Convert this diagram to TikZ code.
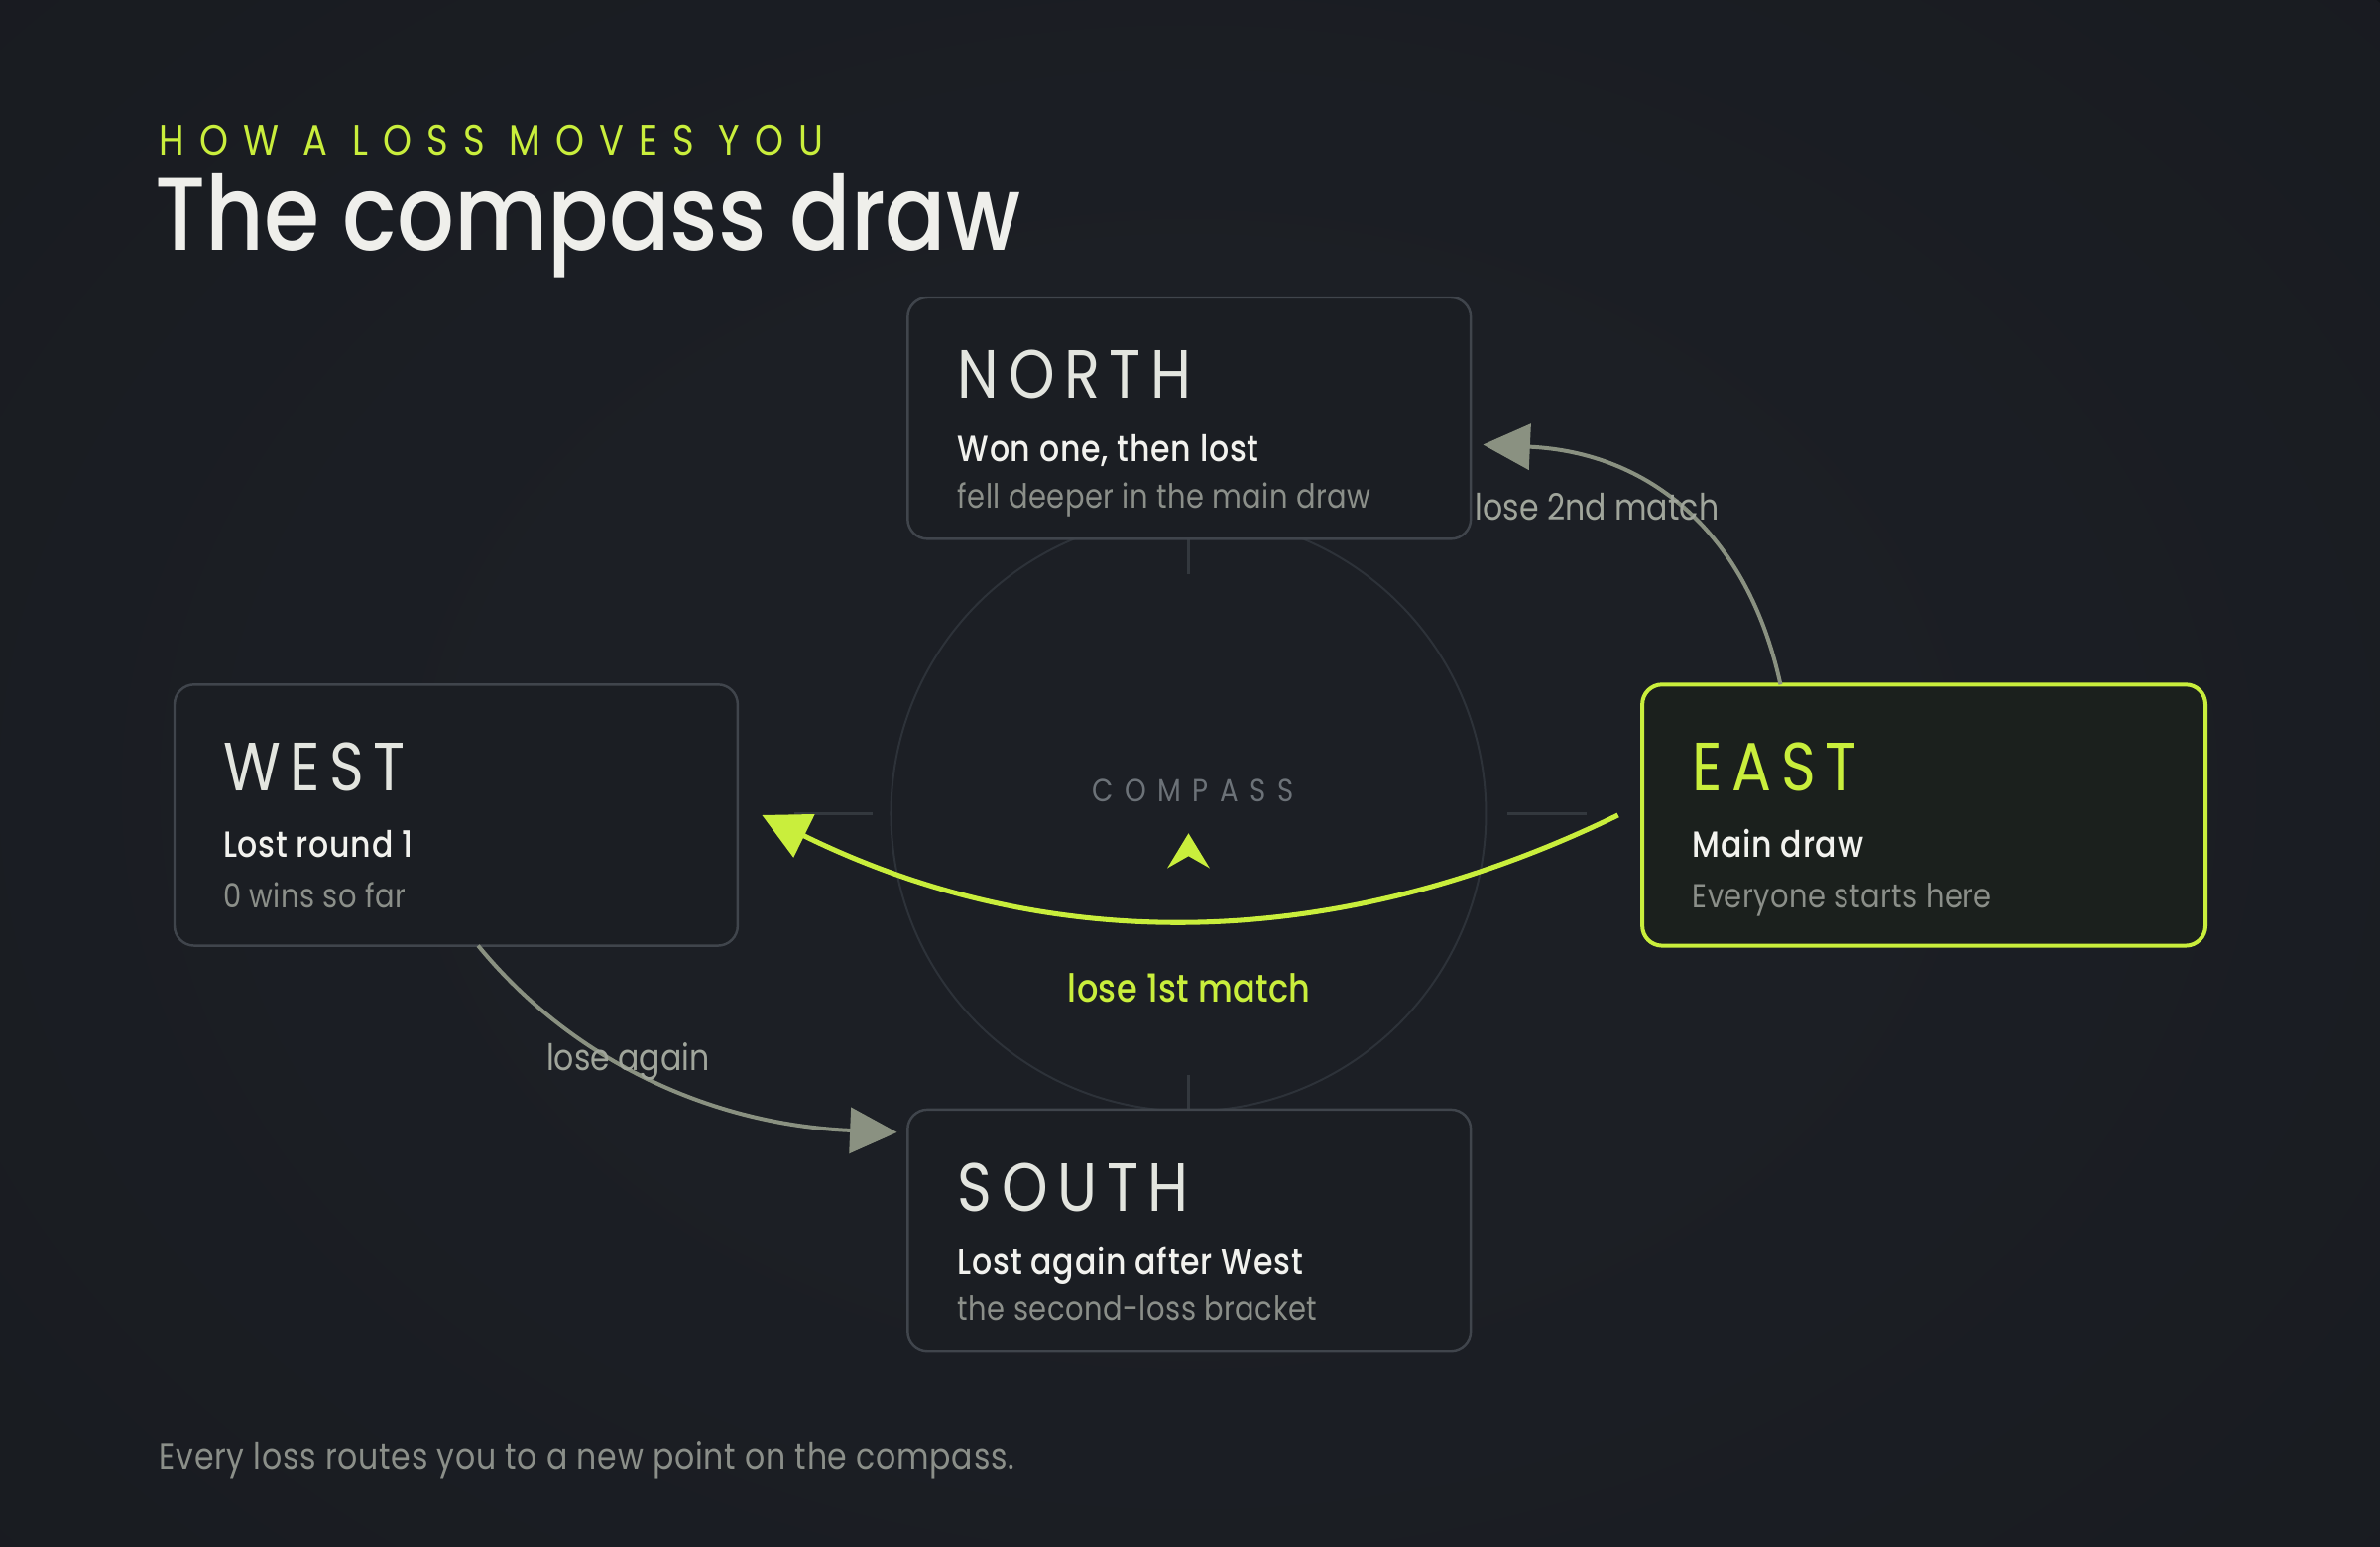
\documentclass[tikz,border=0pt]{standalone}
\usepackage{fontspec}
\setmainfont{Poppins}[FakeStretch=0.86]
\IfFontExistsTF{Poppins Medium}
  {\newfontfamily\medfont{Poppins Medium}[FakeStretch=0.86]}
  {\newfontfamily\medfont{Poppins}[FakeStretch=0.86,FakeBold=0.4]}
\usetikzlibrary{arrows.meta}
\definecolor{bgc}{HTML}{121418}
\definecolor{glowc}{HTML}{1C1F25}
\colorlet{glowmid}{glowc!60!bgc}
\definecolor{lime}{HTML}{C9EE3C}
\definecolor{boxfill}{HTML}{1B1E23}
\definecolor{boxline}{HTML}{40454C}
\definecolor{eastfill}{HTML}{1B201D}
\definecolor{headc}{HTML}{E3E5DF}
\definecolor{linec}{HTML}{F2F2EE}
\definecolor{mutec}{HTML}{8B8F89}
\definecolor{arrowc}{HTML}{8A9181}
\definecolor{labelc}{HTML}{A0A59B}
\definecolor{ringc}{HTML}{2D3239}
\definecolor{tickc}{HTML}{33383E}
\definecolor{compc}{HTML}{6C7278}
\definecolor{titlec}{HTML}{EFEFEB}
\pgfdeclareradialshading{bgglow}{\pgfpoint{0bp}{0bp}}{color(0bp)=(glowc); color(10bp)=(glowc); color(28bp)=(glowmid); color(46bp)=(bgc); color(50bp)=(bgc)}
\begin{document}
\begin{tikzpicture}[x=1pt,y=-1pt,
  card/.style={draw=boxline, fill=boxfill, line width=1.6pt, rounded corners=13pt, minimum width=371pt, inner sep=0pt, outer sep=0pt},
  hotcard/.style={card, draw=lime, fill=eastfill, line width=2.6pt},
  txt/.style={anchor=base west, inner sep=0pt, outer sep=0pt},
  headtxt/.style={txt, text=headc, font=\fontsize{45}{45}\selectfont\addfontfeature{LetterSpace=14}},
  subtxt/.style={txt, text=linec, font=\fontsize{24}{24}\medfont\addfontfeature{LetterSpace=2}},
  notetxt/.style={txt, text=mutec, font=\fontsize{22}{22}\selectfont\addfontfeature{LetterSpace=1.5}},
  flow/.style={draw=arrowc, line width=2.6pt, -{Triangle[length=31pt,width=30pt]}},
  hotflow/.style={draw=lime, line width=3.3pt, -{Triangle[length=31pt,width=31pt]}},
  flowlabel/.style={txt, text=labelc, font=\fontsize{24}{24}\selectfont},
  tick/.style={draw=tickc, line width=2pt}
]
\useasboundingbox (0,0) rectangle (1568,1019);
\begin{scope}
  \clip (0,0) rectangle (1568,1019);
  \fill[bgc] (0,0) rectangle (1568,1019);
  \shade[shading=bgglow] (783,520) ellipse [x radius=1050pt, y radius=780pt];
\end{scope}

% compass ring and ticks
\draw[ringc, line width=1.3pt] (783,536) circle [radius=196pt];
\draw[tick] (783,378) -- (783,340);
\draw[tick] (783,708) -- (783,735);
\draw[tick] (523,536) -- (575,536);
\draw[tick] (993,536) -- (1045,536);

% title
\node[txt, text=lime, font=\fontsize{28}{28}\selectfont\addfontfeature{LetterSpace=35}] (kicker) at (105,102) {HOW A LOSS MOVES YOU};
\node[txt, text=titlec, font=\fontsize{69}{69}\medfont] (title) at (102,165) {The compass draw};

% cards
\node[card, minimum height=159pt] (north) at (783.5,275.5) {};
\node[card, minimum height=172pt] (west) at (300.5,537) {};
\node[hotcard, minimum height=172pt] (east) at (1267.5,537) {};
\node[card, minimum height=159pt] (south) at (783.5,810.5) {};

\node[headtxt] (northH) at ([xshift=33pt,yshift=-66pt]north.north west) {NORTH};
\node[subtxt] (northS) at ([xshift=33pt,yshift=-108pt]north.north west) {Won one, then lost};
\node[notetxt] (northN) at ([xshift=33pt,yshift=-139pt]north.north west) {fell deeper in the main draw};

\node[headtxt] (westH) at ([xshift=32pt,yshift=-70pt]west.north west) {WEST};
\node[subtxt] (westS) at ([xshift=32pt,yshift=-114pt]west.north west) {Lost round 1};
\node[notetxt] (westN) at ([xshift=32pt,yshift=-147pt]west.north west) {0 wins so far};

\node[headtxt, text=lime] (eastH) at ([xshift=33pt,yshift=-70pt]east.north west) {EAST};
\node[subtxt] (eastS) at ([xshift=33pt,yshift=-114pt]east.north west) {Main draw};
\node[notetxt] (eastN) at ([xshift=33pt,yshift=-147pt]east.north west) {Everyone starts here};

\node[headtxt] (southH) at ([xshift=33pt,yshift=-67pt]south.north west) {SOUTH};
\node[subtxt] (southS) at ([xshift=33pt,yshift=-109pt]south.north west) {Lost again after West};
\node[notetxt] (southN) at ([xshift=33pt,yshift=-139pt]south.north west) {the second-loss bracket};

% compass centre
\node[anchor=base, inner sep=0pt, text=compc, font=\fontsize{21}{21}\selectfont\addfontfeature{LetterSpace=36}] (complabel) at (786,528) {COMPASS};
\fill[lime] (783,549) -- (797,572) -- (783,564) -- (769,572) -- cycle;

% connectors
\draw[hotflow] ([xshift=-16pt]east.west) .. controls (877,629) and (689,629) .. ([xshift=16pt]west.east);
\draw[flow] ([xshift=91pt]east.north west) .. controls (1151,350) and (1086,298) .. ([xshift=8pt,yshift=-17.5pt]north.east);
\draw[flow] ([xshift=200pt]west.south west) .. controls (378,700) and (470,741) .. ([xshift=-7pt,yshift=64.5pt]south.west);

% connector labels
\node[anchor=base, inner sep=0pt, text=lime, font=\fontsize{25.5}{25.5}\medfont\addfontfeature{LetterSpace=1}] (l1) at (783.5,660) {lose 1st match};
\node[flowlabel] (l2) at (972,342.5) {lose 2nd match};
\node[flowlabel] (l3) at (360,705) {lose again};

% footer
\node[txt, text=mutec, font=\fontsize{24}{24}\selectfont\addfontfeature{LetterSpace=2}] (footer) at (105,968) {Every loss routes you to a new point on the compass.};
\end{tikzpicture}
\end{document}
